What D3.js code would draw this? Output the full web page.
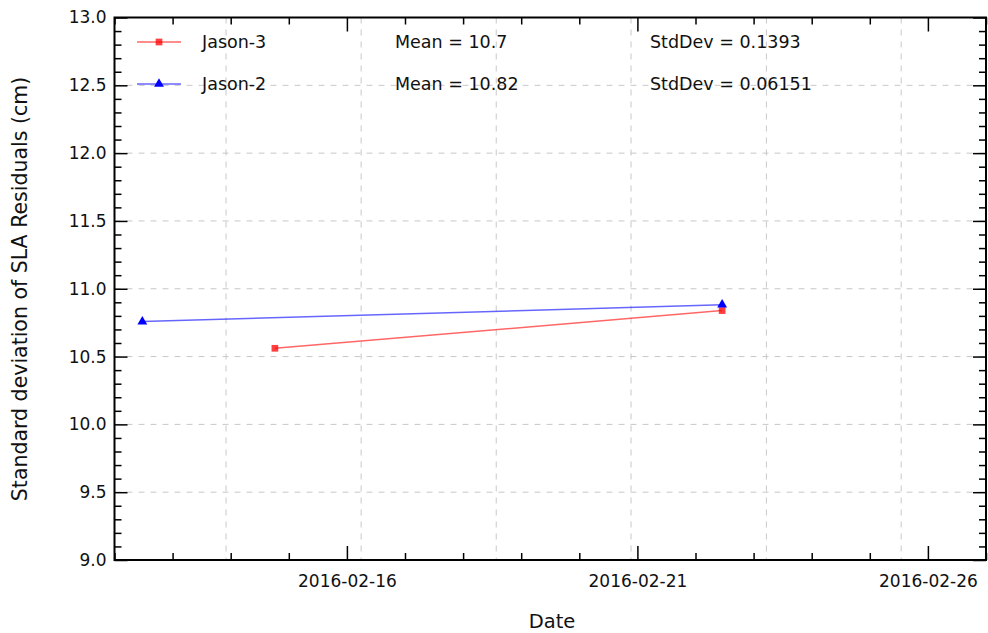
<!DOCTYPE html>
<html><head><meta charset="utf-8">
<script src="https://cdn.jsdelivr.net/npm/d3@7"></script>
<style>body{margin:0;background:#fff}svg{display:block}text{font-family:"DejaVu Sans",sans-serif;fill:#111}</style>
</head><body><svg id="c" width="988" height="633"></svg>
<script>
const seriesNames = ["Jason-3", "Jason-2"];
const jason3Dates = ["2016-02-14T18:15", "2016-02-22T11:00"];
const jason3Values = [10.561, 10.839];
const jason2Dates = ["2016-02-12T11:30", "2016-02-22T11:00"];
const jason2Values = [10.758, 10.882];
const meanLabels = ["Mean = 10.7", "Mean = 10.82"];
const stdLabels = ["StdDev = 0.1393", "StdDev = 0.06151"];
const xMajorTicks = ["2016-02-16", "2016-02-21", "2016-02-26"];
const xGridDayOffsets = [1.92, 4.245, 6.57, 8.89, 11.22, 13.54];
const yDomain = [9.0, 13.0];
const xDomain = ["2016-02-12", "2016-02-27"];

const parse = d3.isoParse;
const svg = d3.select("#c");
const L = 114.5, R = 986, T = 17.5, B = 560;
const x = d3.scaleTime().domain(xDomain.map(parse)).range([L, R]);
const y = d3.scaleLinear().domain(yDomain).range([B, T]);

// grid
const g = svg.append("g");
const day0 = parse(xDomain[0]);
const gx = d => x(d3.timeMinute.offset(day0, Math.round(d * 24 * 60)));
g.selectAll("line.gx").data(xGridDayOffsets).join("line")
  .attr("x1", gx).attr("x2", gx)
  .attr("y1", T).attr("y2", B)
  .attr("stroke", "#c8c8c8").attr("stroke-width", 1).attr("stroke-dasharray", "6,6");
const yGrid = d3.range(9.5, 13.0, 0.5);
g.selectAll("line.gy").data(yGrid).join("line")
  .attr("x1", L).attr("x2", R).attr("y1", d => y(d)).attr("y2", d => y(d))
  .attr("stroke", "#c8c8c8").attr("stroke-width", 1).attr("stroke-dasharray", "6,6");

// axes
const majorDates = xMajorTicks.map(parse);
const minorDates = d3.timeDay.range(parse(xDomain[0]), d3.timeDay.offset(parse(xDomain[1]), 1)).filter(d => !majorDates.some(m => +m === +d));
const yMajor = d3.range(9.0, 13.01, 0.5).map(v => +v.toFixed(1));
const yMinor = d3.range(9.0, 13.01, 0.1).map(v => +v.toFixed(1)).filter(v => !yMajor.includes(v));

function axis(gen, transform, majorLen, minorLen, showLabels, isY) {
  const a1 = svg.append("g").attr("transform", transform)
    .call(gen(isY ? y : x).tickValues(isY ? yMajor : majorDates).tickSizeInner(-majorLen).tickSizeOuter(0)
      .tickFormat(showLabels ? (isY ? d3.format(".1f") : d3.timeFormat("%Y-%m-%d")) : () => "").tickPadding(isY ? 8 : 15));
  a1.select(".domain").remove();
  a1.selectAll("line").attr("stroke", "#000").attr("stroke-width", 1.5);
  a1.selectAll("text").style("font-size", "17px").attr("fill", "#111");
  const a2 = svg.append("g").attr("transform", transform)
    .call(gen(isY ? y : x).tickValues(isY ? yMinor : minorDates).tickSizeInner(-minorLen).tickSizeOuter(0).tickFormat(() => ""));
  a2.select(".domain").remove();
  a2.selectAll("line").attr("stroke", "#000").attr("stroke-width", 1.5);
}
axis(d3.axisBottom, `translate(0,${B})`, 14, 7, true, false);
axis(d3.axisTop, `translate(0,${T})`, 14, 7, false, false);
axis(d3.axisLeft, `translate(${L},0)`, 13, 7, true, true);
axis(d3.axisRight, `translate(${R},0)`, 13, 7, false, true);

svg.append("rect").attr("x", L).attr("y", T).attr("width", R - L).attr("height", B - T)
  .attr("fill", "none").attr("stroke", "#000").attr("stroke-width", 2);

// series
const series = [
  {name: seriesNames[0], dates: jason3Dates, vals: jason3Values, color: "#ff0000", marker: "square"},
  {name: seriesNames[1], dates: jason2Dates, vals: jason2Values, color: "#0000ff", marker: "triangle"}
];
const line = d3.line().x(d => x(d[0])).y(d => y(d[1]));
series.forEach(s => {
  const pts = s.dates.map((d, i) => [parse(d), s.vals[i]]);
  svg.append("path").datum(pts).attr("d", line).attr("fill", "none")
    .attr("stroke", s.color).attr("stroke-opacity", 0.6).attr("stroke-width", 1.5);
  const sym = d3.symbol().type(s.marker === "square" ? d3.symbolSquare : d3.symbolTriangle).size(s.marker === "square" ? 45 : 42);
  svg.selectAll(null).data(pts).join("path")
    .attr("transform", d => `translate(${x(d[0])},${y(d[1])})`)
    .attr("d", sym).attr("fill", s.color).attr("fill-opacity", s.marker === "square" ? 0.75 : 1);
});

// legend
series.forEach((s, i) => {
  const ly = 42 + i * 42;
  svg.append("line").attr("x1", 137).attr("x2", 181).attr("y1", ly).attr("y2", ly)
    .attr("stroke", s.color).attr("stroke-opacity", 0.6).attr("stroke-width", 1.5);
  const sym = d3.symbol().type(s.marker === "square" ? d3.symbolSquare : d3.symbolTriangle).size(s.marker === "square" ? 45 : 42);
  svg.append("path").attr("transform", `translate(159,${ly})`).attr("d", sym)
    .attr("fill", s.color).attr("fill-opacity", s.marker === "square" ? 0.75 : 1);
  svg.append("text").attr("x", 202).attr("y", ly + 6).style("font-size", "17.5px").text(s.name);
  svg.append("text").attr("x", 395).attr("y", ly + 6).style("font-size", "17.5px").text(meanLabels[i]);
  svg.append("text").attr("x", 650).attr("y", ly + 6).style("font-size", "17.5px").text(stdLabels[i]);
});

// titles
svg.append("text").attr("x", 552).attr("y", 628).attr("text-anchor", "middle").style("font-size", "19.5px").text("Date");
svg.append("text").attr("transform", "translate(27,289) rotate(-90)").attr("text-anchor", "middle").style("font-size", "20.5px")
  .text("Standard deviation of SLA Residuals (cm)");
</script></body></html>
